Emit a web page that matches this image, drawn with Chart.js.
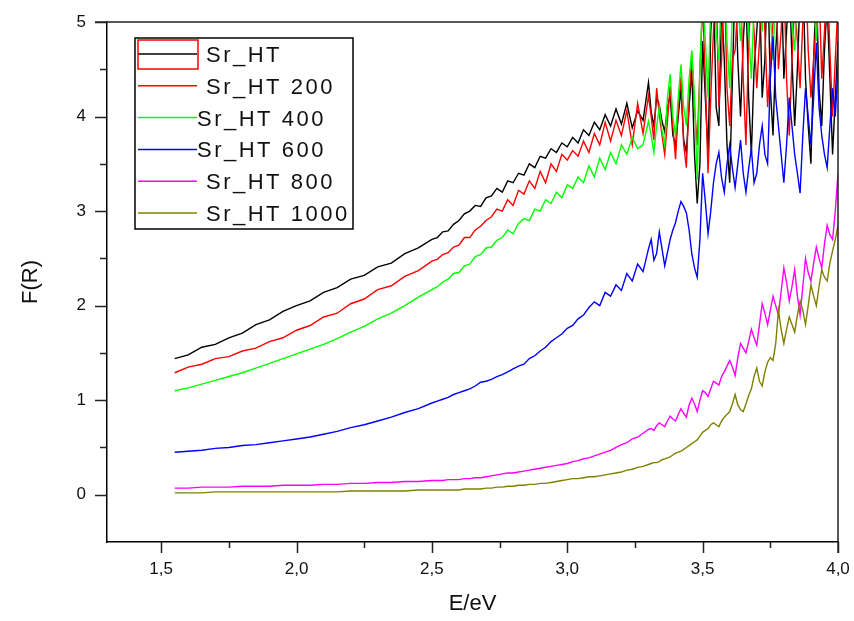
<!DOCTYPE html>
<html>
<head>
<meta charset="utf-8">
<script src="https://cdn.jsdelivr.net/npm/chart.js@4.4.0/dist/chart.umd.min.js"></script>
<style>
  html, body { margin: 0; padding: 0; background: #fff; }
  #wrap { width: 854px; height: 621px; position: relative; }
</style>
</head>
<body>
<div id="wrap"><canvas id="myChart"></canvas></div>
<script>
// photon energy (eV)
var energy = [
  1.55,1.60,1.65,1.70,1.75,1.80,1.85,1.90,1.95,2.00,
  2.05,2.10,2.15,2.20,2.25,2.30,2.35,2.40,2.45,2.50,
  2.52,2.54,2.56,2.58,2.60,2.62,2.64,2.66,2.68,2.70,
  2.72,2.74,2.76,2.78,2.80,2.82,2.84,2.86,2.88,2.90,
  2.92,2.94,2.96,2.98,3.00,3.02,3.04,3.06,3.08,3.10,
  3.12,3.14,3.16,3.18,3.20,3.22,3.24,3.26,3.28,3.30,
  3.31,3.32,3.33,3.34,3.35,3.36,3.37,3.38,3.39,3.40,
  3.41,3.42,3.43,3.44,3.45,3.46,3.47,3.48,3.49,3.50,
  3.51,3.52,3.53,3.54,3.55,3.56,3.57,3.58,3.59,3.60,
  3.61,3.62,3.63,3.64,3.65,3.66,3.67,3.68,3.69,3.70,
  3.71,3.72,3.73,3.74,3.75,3.76,3.77,3.78,3.79,3.80,
  3.81,3.82,3.83,3.84,3.85,3.86,3.87,3.88,3.89,3.90,
  3.91,3.92,3.93,3.94,3.95,3.96,3.97,3.98,3.99,4.00
];

var srHT = [
  1.44,1.48,1.56,1.59,1.66,1.71,1.80,1.85,1.94,2.00,
  2.05,2.14,2.19,2.28,2.32,2.41,2.45,2.55,2.61,2.70,
  2.72,2.78,2.79,2.86,2.90,2.97,3.00,3.06,3.05,3.14,
  3.16,3.24,3.20,3.32,3.30,3.40,3.38,3.50,3.46,3.58,
  3.56,3.66,3.62,3.72,3.68,3.78,3.72,3.86,3.80,3.94,
  3.86,4.02,3.90,4.08,3.92,4.14,3.88,4.06,3.96,4.36,
  4.05,3.90,4.20,4.12,3.95,3.84,4.10,4.22,3.80,3.70,
  4.00,4.30,3.75,3.62,4.10,4.50,3.60,3.08,3.50,4.80,
  4.20,3.60,4.90,5.40,4.10,3.90,5.20,4.60,3.70,3.30,
  4.40,5.50,4.60,4.00,4.80,5.30,4.20,3.60,4.50,4.90,
  5.40,4.20,4.60,5.60,4.30,3.80,4.70,5.20,5.60,4.40,
  4.90,5.50,4.60,3.90,4.50,5.30,5.60,4.40,3.90,3.50,
  4.60,5.40,4.30,3.90,4.70,5.20,4.40,3.60,4.20,4.80
];
var srHT200 = [
  1.29,1.35,1.38,1.44,1.46,1.52,1.55,1.62,1.66,1.74,
  1.79,1.88,1.92,2.02,2.07,2.17,2.21,2.31,2.37,2.47,
  2.49,2.54,2.56,2.62,2.64,2.72,2.72,2.80,2.84,2.90,
  2.94,3.02,3.00,3.12,3.06,3.22,3.18,3.32,3.24,3.42,
  3.30,3.50,3.42,3.60,3.54,3.64,3.58,3.74,3.62,3.82,
  3.70,3.94,3.74,3.96,3.80,4.06,3.70,4.14,3.82,4.22,
  4.00,3.75,4.30,4.02,3.80,3.60,3.95,4.32,3.90,3.55,
  4.10,4.42,3.70,3.46,4.20,4.66,4.10,3.70,4.50,5.20,
  4.40,3.40,4.20,4.90,5.40,4.10,4.60,5.50,4.30,3.90,
  4.60,4.70,5.20,5.40,4.40,3.70,4.80,5.30,4.90,4.30,
  4.80,5.60,4.90,4.10,4.60,5.00,5.50,4.50,4.90,5.50,
  4.40,3.80,4.60,5.20,4.80,4.30,5.00,5.60,4.70,4.20,
  4.60,5.00,5.40,4.40,4.90,5.50,4.70,4.00,4.60,5.20
];
var srHT400 = [
  1.10,1.13,1.17,1.21,1.25,1.29,1.34,1.39,1.44,1.49,
  1.54,1.59,1.65,1.72,1.78,1.86,1.92,2.00,2.09,2.17,
  2.20,2.25,2.28,2.34,2.35,2.42,2.44,2.52,2.54,2.61,
  2.62,2.69,2.72,2.80,2.76,2.87,2.92,2.90,3.02,3.00,
  3.12,3.08,3.20,3.14,3.28,3.24,3.36,3.30,3.48,3.36,
  3.56,3.44,3.62,3.50,3.70,3.60,3.78,3.66,3.70,3.95,
  3.80,3.62,3.90,4.10,3.85,3.70,4.20,4.45,4.00,3.80,
  4.20,4.55,4.10,3.90,4.40,4.70,4.20,3.33,4.50,5.30,
  4.80,4.20,5.20,5.60,4.90,4.60,5.40,5.50,4.80,4.30,
  5.10,5.80,5.20,4.80,5.40,5.60,4.90,4.40,5.20,5.70,
  5.30,4.90,5.60,5.80,5.10,4.60,5.40,5.60,5.20,5.00,
  5.50,5.70,5.00,4.70,5.30,5.80,5.40,5.10,5.60,5.60,
  5.20,4.80,5.40,5.70,5.30,5.20,5.60,5.80,5.40,5.50
];
var srHT600 = [
  0.45,0.46,0.47,0.49,0.50,0.52,0.53,0.55,0.57,0.59,
  0.61,0.64,0.67,0.71,0.74,0.78,0.82,0.87,0.91,0.97,
  0.99,1.01,1.03,1.06,1.08,1.10,1.12,1.15,1.19,1.20,
  1.22,1.25,1.27,1.30,1.33,1.36,1.38,1.44,1.47,1.52,
  1.56,1.62,1.66,1.70,1.76,1.79,1.86,1.90,1.98,2.04,
  2.00,2.14,2.10,2.22,2.16,2.34,2.26,2.44,2.36,2.60,
  2.70,2.48,2.55,2.78,2.60,2.42,2.56,2.70,2.80,2.88,
  3.00,3.10,3.05,2.98,2.80,2.55,2.40,2.30,2.70,3.40,
  3.10,2.76,3.00,3.30,3.50,3.62,3.35,3.20,3.50,3.70,
  3.45,3.25,3.50,3.75,3.40,3.20,3.45,3.66,3.30,3.40,
  3.70,3.90,3.60,3.50,4.40,4.85,4.20,3.90,3.60,3.30,
  3.70,4.20,3.90,3.60,3.40,3.19,3.80,4.30,4.00,3.70,
  4.20,4.78,4.10,3.80,3.60,3.46,3.90,4.30,4.00,4.52
];
var srHT800 = [
  0.07,0.07,0.08,0.08,0.08,0.09,0.09,0.09,0.10,0.10,
  0.10,0.11,0.11,0.12,0.12,0.13,0.13,0.14,0.14,0.15,
  0.15,0.15,0.16,0.16,0.16,0.17,0.17,0.18,0.18,0.19,
  0.20,0.21,0.22,0.23,0.23,0.24,0.25,0.26,0.27,0.28,
  0.29,0.30,0.31,0.32,0.33,0.35,0.36,0.38,0.39,0.41,
  0.43,0.45,0.47,0.50,0.53,0.55,0.59,0.61,0.65,0.69,
  0.70,0.68,0.73,0.76,0.74,0.72,0.78,0.83,0.80,0.78,
  0.85,0.91,0.86,0.82,0.95,1.02,0.96,0.88,1.00,1.10,
  1.08,1.04,1.12,1.20,1.18,1.16,1.25,1.30,1.36,1.42,
  1.35,1.26,1.45,1.60,1.55,1.50,1.62,1.75,1.66,1.58,
  1.80,2.02,1.92,1.80,1.95,2.10,2.00,1.90,2.15,2.40,
  2.25,2.05,2.20,2.38,2.10,1.90,2.20,2.50,2.35,2.26,
  2.45,2.62,2.50,2.40,2.65,2.85,2.75,2.70,3.00,3.40
];
var srHT1000 = [
  0.02,0.02,0.02,0.03,0.03,0.03,0.03,0.03,0.03,0.03,
  0.03,0.03,0.03,0.04,0.04,0.04,0.04,0.04,0.05,0.05,
  0.05,0.05,0.05,0.05,0.05,0.06,0.06,0.06,0.06,0.07,
  0.07,0.08,0.08,0.09,0.09,0.10,0.10,0.11,0.11,0.12,
  0.12,0.13,0.14,0.15,0.16,0.17,0.17,0.18,0.19,0.19,
  0.20,0.21,0.22,0.23,0.24,0.26,0.27,0.29,0.30,0.32,
  0.33,0.34,0.34,0.35,0.37,0.38,0.39,0.40,0.42,0.44,
  0.45,0.46,0.48,0.50,0.52,0.54,0.56,0.58,0.62,0.66,
  0.68,0.70,0.74,0.76,0.74,0.72,0.78,0.82,0.85,0.88,
  0.96,1.06,0.95,0.90,0.88,0.96,1.05,1.12,1.25,1.34,
  1.20,1.15,1.30,1.40,1.45,1.42,1.60,1.95,1.75,1.60,
  1.75,1.88,1.80,1.72,1.90,2.05,1.95,1.80,2.00,2.22,
  2.10,2.00,2.20,2.38,2.30,2.26,2.45,2.58,2.70,2.85
];

var labels = ['Sr_HT', 'Sr_HT 200', 'Sr_HT 400', 'Sr_HT 600', 'Sr_HT 800', 'Sr_HT 1000'];
var colors = ['#000000', '#ff0000', '#00ff00', '#0000ff', '#ff00ff', '#808000'];
var series = [srHT, srHT200, srHT400, srHT600, srHT800, srHT1000];

var xTicks = [1.5, 2.0, 2.5, 3.0, 3.5, 4.0];
var xMinor = [1.75, 2.25, 2.75, 3.25, 3.75];
var yTicks = [0, 1, 2, 3, 4, 5];
var yMinor = [0.5, 1.5, 2.5, 3.5, 4.5];

function pts(vals) {
  return energy.map(function (e, i) { return { x: e, y: vals[i] }; });
}

var datasets = series.map(function (s, i) {
  return {
    label: labels[i],
    data: pts(s),
    borderColor: colors[i],
    backgroundColor: colors[i],
    borderWidth: 1.4,
    pointRadius: 0,
    tension: 0,
    order: series.length - i   // later series on top, like Origin
  };
});

// tick marks, top/right frame and the boxed legend
var framePlugin = {
  id: 'frame',
  afterDatasetsDraw: function (chart) {
    var c = chart.ctx, a = chart.chartArea;
    var xs = chart.scales.x, ys = chart.scales.y;
    c.save();
    c.strokeStyle = '#222';
    c.lineWidth = 1.5;
    c.beginPath();
    c.moveTo(a.left - 12, a.top); c.lineTo(a.right, a.top);
    c.moveTo(a.right, a.top); c.lineTo(a.right, a.bottom + 11);
    xTicks.forEach(function (v) {
      var px = Math.round(xs.getPixelForValue(v)) + 0.5;
      c.moveTo(px, a.bottom); c.lineTo(px, a.bottom + 11);
    });
    xMinor.forEach(function (v) {
      var px = Math.round(xs.getPixelForValue(v)) + 0.5;
      c.moveTo(px, a.bottom); c.lineTo(px, a.bottom + 6);
    });
    yTicks.forEach(function (v) {
      var py = Math.round(ys.getPixelForValue(v)) + 0.5;
      c.moveTo(a.left, py); c.lineTo(a.left - 12, py);
    });
    yMinor.forEach(function (v) {
      var py = Math.round(ys.getPixelForValue(v)) + 0.5;
      c.moveTo(a.left, py); c.lineTo(a.left - 7, py);
    });
    c.stroke();

    // legend box
    var bx = 135, by = 38, bw = 218, bh = 191;
    c.fillStyle = '#fff';
    c.fillRect(bx, by, bw, bh);
    c.strokeStyle = '#000';
    c.lineWidth = 1.5;
    c.strokeRect(bx, by, bw, bh);
    c.font = '22px "Liberation Sans", Arial, sans-serif';
    c.letterSpacing = '2.5px';
    c.textBaseline = 'alphabetic';
    var textX = [206, 206, 197, 197, 206, 206];
    labels.forEach(function (lab, i) {
      var ly = 54 + i * 31.8;
      c.strokeStyle = colors[i];
      c.lineWidth = 1.5;
      c.beginPath();
      c.moveTo(138, ly); c.lineTo(197, ly);
      c.stroke();
      c.fillStyle = '#111';
      c.fillText(lab, textX[i], ly + 8);
    });
    c.strokeStyle = '#ff0000';
    c.lineWidth = 1.5;
    c.strokeRect(138, 40, 60, 29);
    c.restore();
  }
};

var ctx = document.getElementById('myChart').getContext('2d');
var myChart = new Chart(ctx, {
  type: 'line',
  data: { datasets: datasets },
  options: {
    responsive: true,
    maintainAspectRatio: false,
    animation: false,
    layout: { padding: { top: 22, right: 16, left: 0, bottom: 0 } },
    plugins: {
      legend: { display: false },
      tooltip: { enabled: false }
    },
    scales: {
      x: {
        type: 'linear',
        min: 1.3,
        max: 4.0,
        afterBuildTicks: function (scale) {
          scale.ticks = xTicks.map(function (v) { return { value: v }; });
        },
        afterFit: function (scale) {
          scale.height = 79;
          scale.paddingLeft = 0;
          scale.paddingRight = 0;
        },
        grid: { display: false, drawTicks: false },
        border: { display: true, color: '#000', width: 1.5 },
        ticks: {
          padding: 17,
          maxRotation: 0,
          color: '#111',
          font: { family: '"Liberation Sans", Arial, sans-serif', size: 17 },
          callback: function (v) { return Number(v).toFixed(1).replace('.', ','); }
        },
        title: {
          display: true,
          text: 'E/eV',
          color: '#111',
          font: { family: '"Liberation Sans", Arial, sans-serif', size: 22 },
          padding: { top: 0, bottom: 4 }
        }
      },
      y: {
        min: -0.5,
        max: 5,
        afterBuildTicks: function (scale) {
          scale.ticks = yTicks.map(function (v) { return { value: v }; });
        },
        afterFit: function (scale) {
          scale.width = 107;
          scale.paddingTop = 0;
          scale.paddingBottom = 0;
        },
        grid: { display: false, drawTicks: false },
        border: { display: true, color: '#000', width: 1.5 },
        ticks: {
          padding: 21,
          color: '#111',
          font: { family: '"Liberation Sans", Arial, sans-serif', size: 17 },
          callback: function (v) { return String(v); }
        },
        title: {
          display: true,
          text: 'F(R)',
          color: '#111',
          font: { family: '"Liberation Sans", Arial, sans-serif', size: 22 },
          padding: { top: 18, bottom: 0 }
        }
      }
    }
  },
  plugins: [framePlugin]
});
</script>
</body>
</html>
